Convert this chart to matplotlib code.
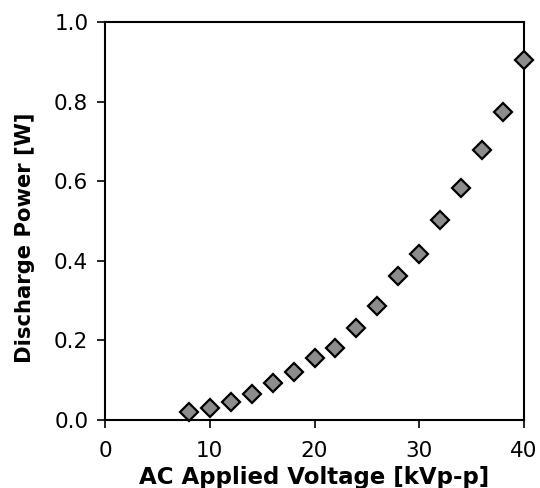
import matplotlib
matplotlib.use('Agg')
import matplotlib.pyplot as plt

# discharge power vs applied voltage
voltage = [8, 10, 12, 14, 16, 18, 20, 22, 24, 26, 28, 30, 32, 34, 36, 38, 40]
power = [0.020, 0.031, 0.046, 0.065, 0.092, 0.121, 0.157, 0.182, 0.232,
         0.287, 0.363, 0.417, 0.503, 0.584, 0.678, 0.774, 0.905]

x_ticks = [0, 10, 20, 30, 40]
y_ticks = [0.0, 0.2, 0.4, 0.6, 0.8, 1.0]

plt.rcParams['font.family'] = 'DejaVu Sans'

fig = plt.figure(figsize=(5.40, 4.88), dpi=100)
ax = fig.add_axes([105 / 540, 68 / 488, 419 / 540, 398 / 488])

ax.plot(voltage, power, linestyle='none', marker='D', markersize=9.5,
        markerfacecolor='#8c8c8c', markeredgecolor='black',
        markeredgewidth=1.6, clip_on=False, zorder=3)

ax.set_xlim(0, 40)
ax.set_ylim(0, 1.0)
ax.set_xticks(x_ticks)
ax.set_yticks(y_ticks)
ax.set_yticklabels(['%.1f' % v for v in y_ticks])

for s in ax.spines.values():
    s.set_linewidth(1.5)
ax.tick_params(direction='out', length=6, width=1.2, labelsize=15.5)
ax.tick_params(axis='x', pad=9)
ax.tick_params(axis='y', pad=6)

ax.set_xlabel('AC Applied Voltage [kVp-p]', fontsize=16.5, fontweight='bold', labelpad=4)
ax.set_ylabel('Discharge Power [W]', fontsize=15.2, fontweight='bold')
# label sits a bit below the axes centre in the original
ax.yaxis.set_label_coords(-0.167, 0.4585)

fig.savefig('out.png', dpi=100)
